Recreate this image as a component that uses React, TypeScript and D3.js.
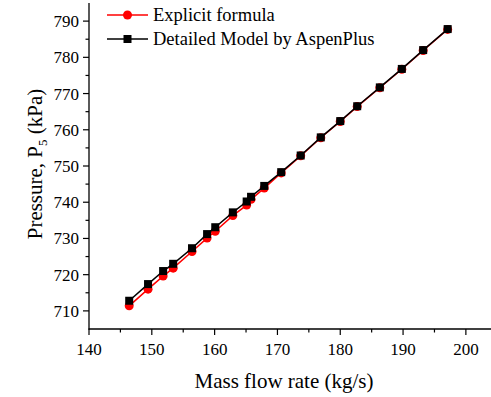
import React from 'react';
import * as d3 from 'd3';

// mass flow rate (kg/s) and outlet pressure P5 (kPa)
const flowRates = [146.4, 149.4, 151.8, 153.4, 156.4, 158.8, 160.1, 162.9, 165.1, 165.8, 167.9, 170.6, 173.7, 176.9, 180.0, 182.7, 186.3, 189.8, 193.2, 197.1];
const explicitP5 = [711.4, 716.0, 719.6, 721.8, 726.4, 730.1, 732.0, 736.3, 739.2, 740.8, 743.9, 748.1, 752.8, 757.8, 762.3, 766.4, 771.6, 776.7, 781.9, 787.7];
const aspenP5 = [712.8, 717.4, 721.0, 723.0, 727.3, 731.2, 733.1, 737.2, 740.2, 741.5, 744.5, 748.3, 752.9, 757.9, 762.4, 766.5, 771.7, 776.8, 782.0, 787.8];
const xTicks = [140, 150, 160, 170, 180, 190, 200];
const yTicks = [710, 720, 730, 740, 750, 760, 770, 780, 790];
const legendLabels = ['Explicit formula', 'Detailed Model by AspenPlus'];

const W = 491, H = 397;
const font = '"Liberation Serif", "Times New Roman", serif';

export default function App() {
  const x = d3.scaleLinear().domain([140, 204]).range([89, 491]);
  const y = d3.scaleLinear().domain([705, 795]).range([329, 3]);

  const redPts: [number, number][] = flowRates.map((f, i) => [f, explicitP5[i]]);
  const blkPts: [number, number][] = flowRates.map((f, i) => [f, aspenP5[i]]);
  const line = d3.line<[number, number]>().x(d => x(d[0])).y(d => y(d[1]));

  const xMinor = d3.range(145, 204, 10);
  const yMinor = d3.range(715, 795, 10);

  return (
    <svg width={W} height={H} style={{ position: 'absolute', left: 0, top: 0, background: '#fff' }} fontFamily={font}>
      {/* axes */}
      <line x1={89} y1={3} x2={89} y2={329.5} stroke="#000" strokeWidth={1.3} />
      <line x1={88.5} y1={329} x2={491} y2={329} stroke="#000" strokeWidth={1.3} />
      {xTicks.map(t => (
        <g key={'xt' + t}>
          <line x1={x(t)} x2={x(t)} y1={329} y2={335} stroke="#000" strokeWidth={1.2} />
          <text x={x(t)} y={355} textAnchor="middle" fontSize={17}>{t}</text>
        </g>
      ))}
      {xMinor.map(t => (
        <line key={'xm' + t} x1={x(t)} x2={x(t)} y1={329} y2={332.5} stroke="#000" strokeWidth={1.2} />
      ))}
      {yTicks.map(t => (
        <g key={'yt' + t}>
          <line x1={83} x2={89} y1={y(t)} y2={y(t)} stroke="#000" strokeWidth={1.2} />
          <text x={79} y={y(t) + 6} textAnchor="end" fontSize={17}>{t}</text>
        </g>
      ))}
      {yMinor.map(t => (
        <line key={'ym' + t} x1={85.5} x2={89} y1={y(t)} y2={y(t)} stroke="#000" strokeWidth={1.2} />
      ))}

      {/* titles */}
      <text x={284} y={388} textAnchor="middle" fontSize={21}>Mass flow rate (kg/s)</text>
      <text transform="translate(42,164) rotate(-90)" textAnchor="middle" fontSize={21}>
        Pressure, P<tspan fontSize={13} dy={5}>5</tspan><tspan dy={-5}> (kPa)</tspan>
      </text>

      {/* explicit formula series */}
      <path d={line(redPts) ?? ''} fill="none" stroke="#ff0000" strokeWidth={1.5} />
      {redPts.map((p, i) => (
        <circle key={'r' + i} cx={x(p[0])} cy={y(p[1])} r={4.5} fill="#ff0000" />
      ))}
      {/* AspenPlus series */}
      <path d={line(blkPts) ?? ''} fill="none" stroke="#000" strokeWidth={1.5} />
      {blkPts.map((p, i) => (
        <rect key={'b' + i} x={x(p[0]) - 4} y={y(p[1]) - 4} width={8} height={8} fill="#000" />
      ))}

      {/* legend */}
      <line x1={107} x2={148} y1={15} y2={15} stroke="#ff0000" strokeWidth={1.5} />
      <circle cx={127.5} cy={15} r={4.5} fill="#ff0000" />
      <text x={153} y={21} fontSize={18.5}>{legendLabels[0]}</text>
      <line x1={107} x2={148} y1={39} y2={39} stroke="#000" strokeWidth={1.5} />
      <rect x={123.5} y={35} width={8} height={8} fill="#000" />
      <text x={153} y={45} fontSize={18.5}>{legendLabels[1]}</text>
    </svg>
  );
}
